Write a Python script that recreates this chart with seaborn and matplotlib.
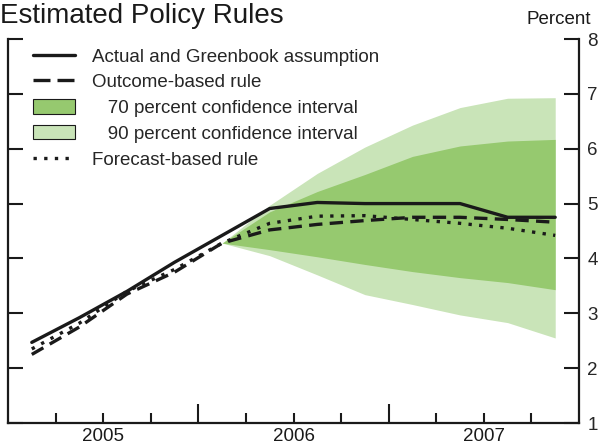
import numpy as np
import pandas as pd
import matplotlib
matplotlib.use("Agg")
import matplotlib.pyplot as plt
from matplotlib.lines import Line2D
from matplotlib.patches import Patch
from matplotlib.ticker import FixedLocator
import seaborn as sns

### Data (quarterly, plotted at quarter midpoints)
quarters = [2005.125, 2005.375, 2005.625, 2005.875,
            2006.125, 2006.375, 2006.625, 2006.875,
            2007.125, 2007.375, 2007.625, 2007.875]
actual = [2.47, 2.92, 3.40, 3.93, 4.42, 4.91, 5.02, 5.00, 5.00, 5.00, 4.75, 4.75]
outcome_rule = [2.25, 2.75, 3.35, 3.75, 4.28, 4.52, 4.62, 4.69, 4.75, 4.75, 4.71, 4.66]
forecast_rule = [2.35, 2.82, 3.40, 3.80, 4.28, 4.64, 4.77, 4.78, 4.71, 4.64, 4.55, 4.42]

# confidence bands start at 2006Q1
fan_quarters = quarters[4:]
upper90 = [4.28, 4.97, 5.55, 6.03, 6.43, 6.75, 6.92, 6.93]
upper70 = [4.28, 4.85, 5.22, 5.53, 5.86, 6.05, 6.14, 6.17]
lower70 = [4.28, 4.16, 4.03, 3.89, 3.76, 3.65, 3.56, 3.43]
lower90 = [4.28, 4.05, 3.70, 3.34, 3.16, 2.97, 2.83, 2.55]

years = [2005, 2006, 2007]
yticks = [1, 2, 3, 4, 5, 6, 7, 8]

dark_green = "#96c96f"
light_green = "#c9e4b8"
ink = '#1a1a1a'
fs = 13.5

### Style
sns.set_style("ticks")
plt.rcParams['font.family'] = ['Liberation Sans', 'DejaVu Sans']

fig = plt.figure(figsize=(6.02, 4.44), dpi=100)
ax = fig.add_axes([8/602, 1-423/444, (579-8)/602, (423-39)/444])

df = pd.DataFrame({'date': quarters, 'actual': actual,
                   'outcome': outcome_rule, 'forecast': forecast_rule})

ax.fill_between(fan_quarters, lower90, upper90, color=light_green, lw=0, zorder=1)
ax.fill_between(fan_quarters, lower70, upper70, color=dark_green, lw=0, zorder=2)

sns.lineplot(data=df, x='date', y='actual', color=ink, lw=2.4, ax=ax, zorder=5)
sns.lineplot(data=df, x='date', y='outcome', color=ink, lw=2.4, ax=ax, zorder=4,
             linestyle=(0, (4, 2.2)))
sns.lineplot(data=df, x='date', y='forecast', color=ink, lw=2.4, ax=ax, zorder=4,
             linestyle=(0, (1, 2.2)))

ax.set_xlim(2005, 2008)
ax.set_ylim(1, 8)
ax.set_xlabel('')
ax.set_ylabel('')

# spines
for s in ['left', 'right', 'bottom']:
    ax.spines[s].set_visible(True)
    ax.spines[s].set_linewidth(1.6)
    ax.spines[s].set_color(ink)
ax.spines['top'].set_visible(False)

# y ticks: both sides inward, labels on the right
ax.set_yticks(yticks)
ax.set_yticklabels([str(v) for v in yticks])
ax.tick_params(axis='y', which='major', direction='in', length=11, width=1.5,
               left=True, right=True, labelleft=False, labelright=True,
               labelsize=fs, pad=6, color=ink)

# x ticks: year boundaries long, quarters short
ax.set_xticks([2006, 2007])
ax.set_xticklabels([])
ax.xaxis.set_minor_locator(FixedLocator([2005.25, 2005.5, 2005.75, 2006.25, 2006.5,
                                         2006.75, 2007.25, 2007.5, 2007.75]))
ax.tick_params(axis='x', which='major', direction='in', length=14, width=1.5, color=ink)
ax.tick_params(axis='x', which='minor', direction='in', length=7, width=1.5, color=ink)

for yr in years:
    ax.text(yr + 0.5, -0.012, str(yr), transform=ax.get_xaxis_transform(),
            ha='center', va='top', fontsize=fs, color=ink)

# legend
handles = [Line2D([], [], color=ink, lw=2.4),
           Line2D([], [], color=ink, lw=2.4, linestyle=(0, (5.1, 2.1))),
           Patch(facecolor=dark_green, edgecolor=ink, lw=0.8),
           Patch(facecolor=light_green, edgecolor=ink, lw=0.8),
           Line2D([], [], color=ink, lw=2.4, linestyle=(0, (1, 2.2)))]
labels = ['Actual and Greenbook assumption',
          'Outcome-based rule',
          '   70 percent confidence interval',
          '   90 percent confidence interval',
          'Forecast-based rule']
ax.legend(handles, labels, loc='upper left', bbox_to_anchor=(25/571, 0.977),
          frameon=False, fontsize=fs, handlelength=2.25, handleheight=0.8,
          handletextpad=0.9, labelspacing=0.43, borderpad=0, borderaxespad=0)

fig.text(0.0, 1-23/444, 'Estimated Policy Rules', fontsize=20, ha='left', va='baseline',
         color=ink)
fig.text(591/602, 1-24/444, 'Percent', fontsize=fs, ha='right', va='baseline',
         color=ink)

fig.savefig('out.png', dpi=100)
